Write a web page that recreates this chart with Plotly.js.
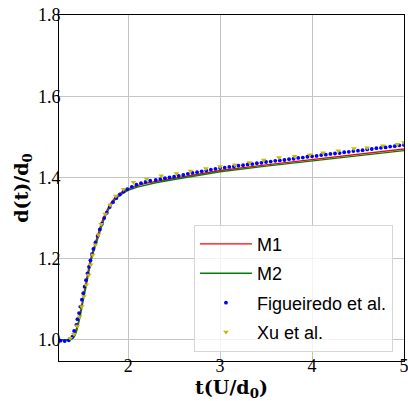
<!DOCTYPE html>
<html>
<head>
<meta charset="utf-8">
<script src="https://cdn.plot.ly/plotly-3.0.1.min.js"></script>
<style>
  html, body { margin: 0; padding: 0; background: #ffffff; }
  #chart { width: 408px; height: 401px; }
</style>
</head>
<body>
<div id="chart"></div>
<script>
// ---- data ----
const m1X = [1.25, 1.30, 1.35, 1.38, 1.40, 1.42, 1.44, 1.46, 1.48, 1.50, 1.52, 1.54, 1.56, 1.58, 1.60, 1.62, 1.64, 1.66, 1.68, 1.70, 1.73, 1.76, 1.80, 1.85, 1.90, 1.95, 2.00, 2.10, 2.20, 2.30, 2.50, 2.75, 3.00, 3.50, 4.00, 4.50, 5.00];
const m1Y = [1.000, 1.000, 1.000, 1.002, 1.006, 1.014, 1.027, 1.045, 1.068, 1.093, 1.117, 1.142, 1.166, 1.188, 1.206, 1.222, 1.237, 1.252, 1.267, 1.281, 1.300, 1.316, 1.333, 1.348, 1.359, 1.366, 1.372, 1.380, 1.386, 1.390, 1.398, 1.408, 1.417, 1.431, 1.444, 1.457, 1.470];

const m2X = [1.25, 1.30, 1.35, 1.38, 1.40, 1.42, 1.44, 1.46, 1.48, 1.50, 1.52, 1.54, 1.56, 1.58, 1.60, 1.62, 1.64, 1.66, 1.68, 1.70, 1.73, 1.76, 1.80, 1.85, 1.90, 1.95, 2.00, 2.10, 2.20, 2.30, 2.50, 2.75, 3.00, 3.50, 4.00, 4.50, 5.00];
const m2Y = [1.000, 1.000, 1.000, 1.001, 1.004, 1.010, 1.021, 1.038, 1.059, 1.084, 1.108, 1.133, 1.157, 1.179, 1.198, 1.214, 1.229, 1.244, 1.259, 1.273, 1.292, 1.309, 1.327, 1.343, 1.354, 1.362, 1.368, 1.376, 1.382, 1.387, 1.395, 1.405, 1.414, 1.428, 1.441, 1.454, 1.466];

const figX = [1.265, 1.31, 1.355, 1.395, 1.412, 1.437, 1.448, 1.466, 1.48, 1.497, 1.512, 1.527, 1.542, 1.558, 1.574, 1.59, 1.606, 1.622, 1.645, 1.668, 1.692, 1.715, 1.74, 1.768, 1.80, 1.835, 1.87, 1.91, 1.95, 1.99, 2.04, 2.09, 2.14, 2.19, 2.24,
  2.30, 2.35, 2.40, 2.45, 2.50, 2.55, 2.60, 2.65, 2.70, 2.75, 2.80, 2.85, 2.90, 2.95, 3.00, 3.05, 3.10, 3.15, 3.20, 3.25, 3.30, 3.35, 3.40, 3.45, 3.50, 3.55, 3.60, 3.65, 3.70, 3.75, 3.80, 3.85, 3.90, 3.95, 4.00, 4.05, 4.10, 4.15, 4.20, 4.25, 4.30, 4.35, 4.40, 4.45, 4.50, 4.55, 4.60, 4.65, 4.70, 4.75, 4.80, 4.85, 4.90, 4.95, 5.00];
const figY = [0.998, 0.997, 0.999, 1.008, 1.022, 1.037, 1.051, 1.066, 1.082, 1.099, 1.115, 1.131, 1.147, 1.164, 1.180, 1.196, 1.211, 1.224, 1.240, 1.256, 1.272, 1.286, 1.300, 1.313, 1.327, 1.339, 1.349, 1.358, 1.365, 1.371, 1.377, 1.382, 1.386, 1.389, 1.392,
  1.394, 1.396, 1.398, 1.400, 1.402, 1.404, 1.406, 1.409, 1.411, 1.413, 1.415, 1.417, 1.419, 1.421, 1.423, 1.424, 1.426, 1.427, 1.429, 1.430, 1.432, 1.433, 1.435, 1.436, 1.438, 1.439, 1.441, 1.442, 1.443, 1.445, 1.446, 1.448, 1.449, 1.451, 1.452, 1.453, 1.455, 1.456, 1.458, 1.459, 1.460, 1.462, 1.463, 1.465, 1.466, 1.467, 1.469, 1.470, 1.472, 1.473, 1.474, 1.476, 1.477, 1.479, 1.480];

const xuX = [1.37, 1.41, 1.447, 1.473, 1.495, 1.52, 1.545, 1.572, 1.593, 1.615, 1.645, 1.676, 1.707, 1.75, 1.804, 1.866, 1.95, 2.058, 2.20, 2.36, 2.525, 2.68, 2.845, 3.00, 3.16, 3.32, 3.475, 3.64, 3.81, 3.977, 4.12, 4.285, 4.457, 4.60, 4.77, 4.93, 5.00];
const xuY = [1.004, 1.014, 1.034, 1.057, 1.082, 1.107, 1.135, 1.160, 1.185, 1.209, 1.234, 1.259, 1.285, 1.310, 1.332, 1.354, 1.371, 1.388, 1.396, 1.404, 1.410, 1.416, 1.422, 1.427, 1.431, 1.437, 1.443, 1.449, 1.452, 1.456, 1.461, 1.466, 1.471, 1.473, 1.478, 1.482, 1.486];

const xTicks = [2, 3, 4, 5];
const xTickText = ['2', '3', '4', '5'];
const yTicks = [1.0, 1.2, 1.4, 1.6, 1.8];
const yTickText = ['1.0', '1.2', '1.4', '1.6', '1.8'];

const traces = [
  { x: m1X, y: m1Y, type: 'scatter', mode: 'lines', name: 'M1', legendgroup: 'a',
    line: { color: '#ff0000', width: 1.4 } },
  { x: m2X, y: m2Y, type: 'scatter', mode: 'lines', name: 'M2', legendgroup: 'b',
    line: { color: '#008000', width: 1.4 } },
  { x: figX, y: figY, type: 'scatter', mode: 'markers', name: 'Figueiredo et al.', legendgroup: 'c',
    marker: { color: '#0000ff', size: 3.8, symbol: 'circle' } },
  { x: xuX, y: xuY, type: 'scatter', mode: 'markers', name: 'Xu et al.', legendgroup: 'd',
    marker: { color: '#bfbf00', size: 5, symbol: 'triangle-down' } }
];

const tickFont = { family: 'Liberation Serif, serif', size: 18, color: '#000' };
const titleFont = { family: 'DejaVu Serif, serif', size: 19, color: '#000' };

const layout = {
  width: 408, height: 401,
  margin: { l: 59, r: 4, t: 15, b: 40, pad: 0 },
  paper_bgcolor: '#ffffff', plot_bgcolor: '#ffffff',
  showlegend: true,
  legend: {
    x: 0.968, y: 0.027, xanchor: 'right', yanchor: 'bottom',
    traceorder: 'grouped', tracegroupgap: 3, itemwidth: 52,
    bgcolor: 'rgba(255,255,255,0.8)', bordercolor: '#d6d6d6', borderwidth: 1,
    font: { family: 'Liberation Sans, Arial, sans-serif', size: 18, color: '#000' }
  },
  xaxis: {
    range: [1.248, 5.0005], tickvals: xTicks, ticktext: xTickText,
    showgrid: true, gridcolor: '#c4c4c4', gridwidth: 1,
    zeroline: false, showline: true, mirror: true, linecolor: '#000', linewidth: 1,
    ticks: '', ticklen: 0, tickfont: tickFont, ticklabeloverflow: 'allow',
    ticklabelstandoff: -12,
    title: { text: '<b>t(U/d<sub>0</sub>)</b>', font: titleFont, standoff: 3 },
    automargin: false
  },
  yaxis: {
    range: [0.948, 1.8], tickvals: yTicks, ticktext: yTickText,
    showgrid: true, gridcolor: '#c4c4c4', gridwidth: 1,
    zeroline: false, showline: true, mirror: true, linecolor: '#000', linewidth: 1,
    ticks: '', ticklen: 0, tickfont: tickFont, ticklabeloverflow: 'allow',
    ticklabelstandoff: -6,
    title: { text: '<b>d(t)/d<sub>0</sub></b>', font: titleFont, standoff: 4 },
    automargin: false
  }
};

Plotly.newPlot('chart', traces, layout, { displayModeBar: false, staticPlot: true });
</script>
</body>
</html>
